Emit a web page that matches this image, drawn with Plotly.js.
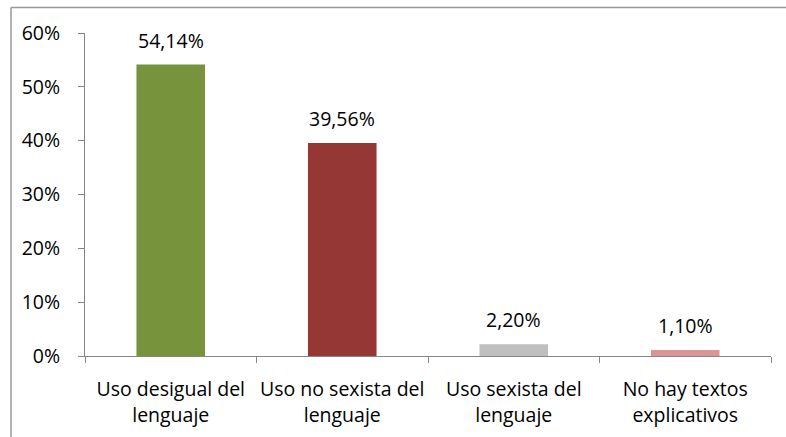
<!DOCTYPE html>
<html>
<head>
<meta charset="utf-8">
<script src="https://cdn.plot.ly/plotly-3.0.1.min.js"></script>
<style>html,body{margin:0;padding:0;background:#fff;}#chart{width:786px;height:437px;}</style>
</head>
<body>
<div id="chart"></div>
<script>
var categories = ["Uso desigual del lenguaje", "Uso no sexista del lenguaje", "Uso sexista del lenguaje", "No hay textos explicativos"];
var tickLabels = ["Uso desigual del<br>lenguaje", "Uso no sexista del<br>lenguaje", "Uso sexista del<br>lenguaje", "No hay textos<br>explicativos"];
var values = [54.14, 39.56, 2.20, 1.10];
var valueLabels = ["54,14%", "39,56%", "2,20%", "1,10%"];
var barColors = ["#77933C", "#953735", "#BFBFBF", "#D99694"];
var yTicks = [0, 10, 20, 30, 40, 50, 60];
var yTickLabels = ["0%", "10%", "20%", "30%", "40%", "50%", "60%"];

var FONT = "'Open Sans', Calibri, Carlito, sans-serif";
var FS = 19.5;
var W = 786, H = 437;
var m = {l: 85, r: 15, t: 33, b: 81};
var pw = W - m.l - m.r, ph = H - m.t - m.b;

var trace = {
  type: "bar",
  x: categories,
  y: values,
  marker: {color: barColors},
  width: 0.4,
  hoverinfo: "none"
};

var annotations = categories.map(function (c, i) {
  return {
    x: c, y: values[i], xref: "x", yref: "y",
    text: valueLabels[i], showarrow: false,
    yanchor: "bottom", yshift: 9,
    font: {family: FONT, size: FS, color: "#000"}
  };
});

var axisColor = "#868686";
var borderColor = "#999999";
var shapes = [
  {type: "line", xref: "paper", yref: "paper",
   x0: (11 - m.l) / pw, x1: (W + 5 - m.l) / pw,
   y0: (H - m.b - 7.5) / ph, y1: (H - m.b - 7.5) / ph,
   line: {color: borderColor, width: 1.5}},
  {type: "line", xref: "paper", yref: "paper",
   x0: (11 - m.l) / pw, x1: (11 - m.l) / pw,
   y0: (H - m.b - 7.5) / ph, y1: -(m.b + 5) / ph,
   line: {color: borderColor, width: 1.5}}
];

var layout = {
  width: W, height: H,
  margin: m,
  paper_bgcolor: "#fff", plot_bgcolor: "#fff",
  showlegend: false,
  bargap: 0.6,
  font: {family: FONT, size: FS, color: "#000"},
  xaxis: {
    type: "category",
    tickmode: "array",
    tickvals: categories,
    ticktext: tickLabels,
    tickangle: 0,
    tickson: "boundaries",
    ticks: "outside", ticklen: 6, tickcolor: axisColor, tickwidth: 1,
    showline: true, linecolor: axisColor, linewidth: 1,
    showgrid: false, zeroline: false,
    ticklabelstandoff: 16,
    tickfont: {family: FONT, size: FS, color: "#000"},
    fixedrange: true
  },
  yaxis: {
    range: [0, 60],
    tickmode: "array",
    tickvals: yTicks,
    ticktext: yTickLabels,
    ticks: "outside", ticklen: 6, tickcolor: axisColor, tickwidth: 1,
    showline: true, linecolor: axisColor, linewidth: 1,
    showgrid: false, zeroline: false,
    ticklabelstandoff: 14,
    tickfont: {family: FONT, size: FS, color: "#000"},
    fixedrange: true
  },
  annotations: annotations,
  shapes: shapes
};

Plotly.newPlot("chart", [trace], layout, {displayModeBar: false, staticPlot: true});
</script>
</body>
</html>
